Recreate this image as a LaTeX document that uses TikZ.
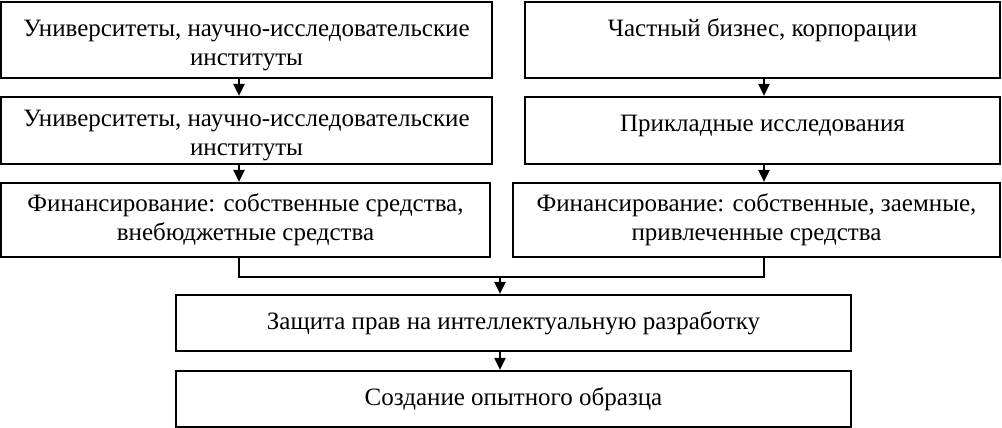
\documentclass[tikz,border=0pt]{standalone}
\usepackage{fontspec}
\setmainfont{Liberation Serif}
\usetikzlibrary{arrows.meta}
\newcommand{\dropline}{\rule{0pt}{27pt}\\[-29pt]}
\begin{document}
\begin{tikzpicture}[x=1pt,y=-1pt,
 box/.style={draw,line width=2.2pt,rectangle,align=center,inner sep=0pt,font=\fontsize{25}{29}\selectfont},
 arr/.style={line width=2.2pt,-{Triangle[width=11pt,length=12pt]}},
 link/.style={line width=2.2pt}]
\useasboundingbox (0,0) rectangle (1002,428);
\node[box,minimum width=491pt,minimum height=76pt] (L1) at (246.5,40) {\dropline Университеты, научно-исследовательские\\институты};
\node[box,minimum width=491pt,minimum height=67pt] (L2) at (246.5,130.5) {\dropline Университеты, научно-исследовательские\\институты};
\node[box,minimum width=489pt,minimum height=74pt] (L3) at (245.5,220) {Финансирование: собственные средства,\\внебюджетные средства};
\node[box,minimum width=475pt,minimum height=76pt] (R1) at (762.5,40) {Частный бизнес, корпорации\\[-13pt]\strut};
\node[box,minimum width=475pt,minimum height=67pt] (R2) at (762.5,130.5) {Прикладные исследования\\[-24pt]\strut};
\node[box,minimum width=487pt,minimum height=74pt] (R3) at (756.5,220) {Финансирование: собственные, заемные,\\привлеченные средства};
\node[box,minimum width=675pt,minimum height=56pt] (B1) at (513.5,323) {Защита прав на интеллектуальную разработку};
\node[box,minimum width=675pt,minimum height=56pt] (B2) at (513.5,399) {Создание опытного образца};
\coordinate (cl) at (239,0);
\coordinate (cr) at (764,0);
\coordinate (cm) at (500,0);
\coordinate (j) at (500,277);
\draw[arr] (L1.south -| cl) -- (L2.north -| cl);
\draw[arr] (L2.south -| cl) -- (L3.north -| cl);
\draw[arr] (R1.south -| cr) -- (R2.north -| cr);
\draw[arr] (R2.south -| cr) -- (R3.north -| cr);
\draw[link] (L3.south -| cl) |- (j) -| (R3.south -| cr);
\draw[arr] (j) -- (B1.north -| j);
\draw[arr] (B1.south -| cm) -- (B2.north -| cm);
\end{tikzpicture}
\end{document}
